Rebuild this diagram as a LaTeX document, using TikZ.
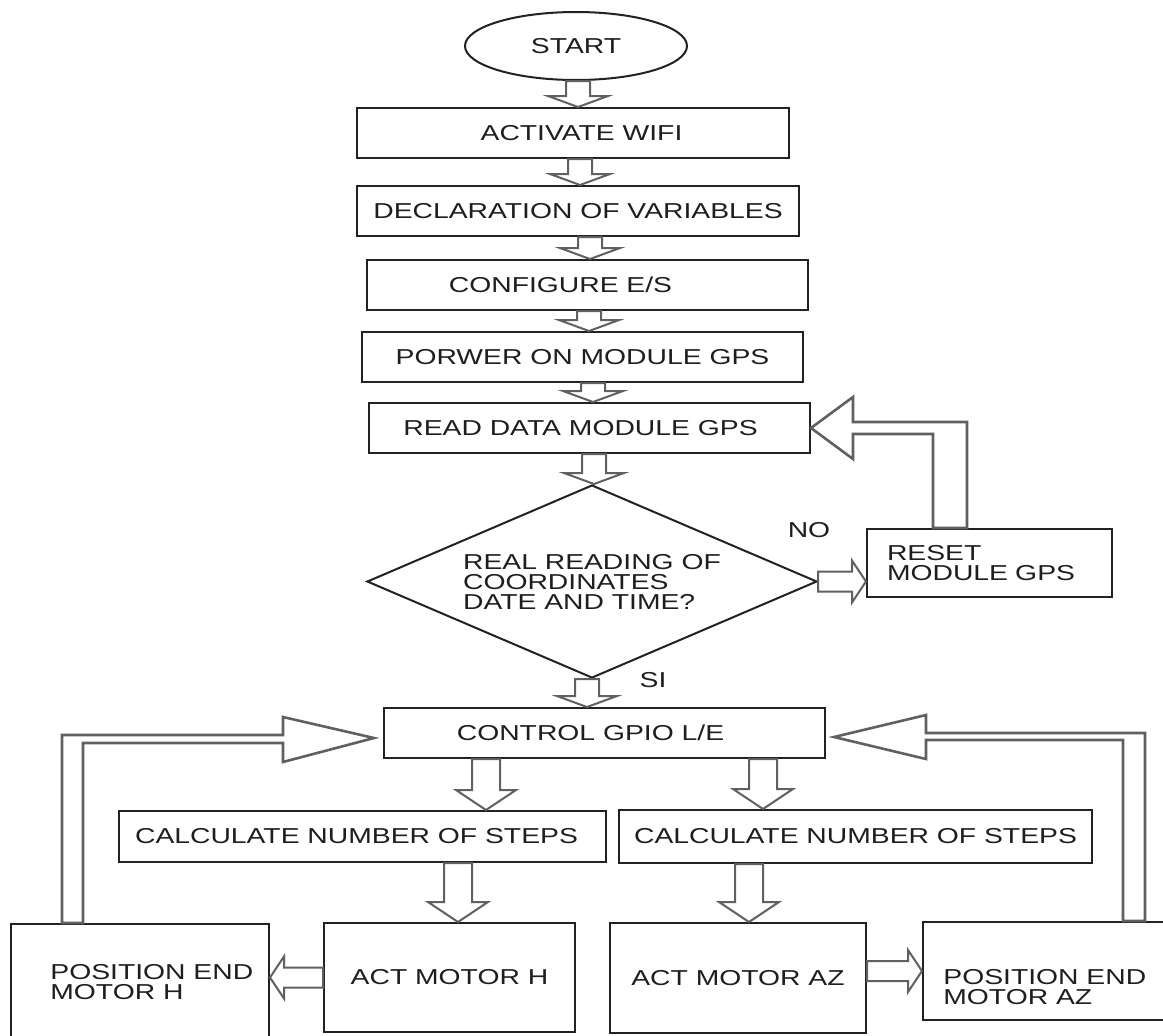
\documentclass[tikz,border=0pt]{standalone}
\usepackage{fontspec}
\usepackage{tikz}
\usetikzlibrary{shapes.geometric,calc}
\newfontfamily\flowfont{Liberation Sans}[FakeStretch=1.31]
\definecolor{boxline}{RGB}{34,34,34}
\definecolor{arrgray}{RGB}{96,96,96}
\definecolor{txtgray}{RGB}{30,30,30}
\tikzset{
  box/.style={draw=boxline, line width=1pt, fill=white, inner sep=0pt, text=txtgray,
    font=\flowfont\fontsize{10.8}{10}\selectfont},
  lbl/.style={inner sep=0pt, text=txtgray, font=\flowfont\fontsize{10.8}{10}\selectfont},
  blk/.style n args={3}{draw=arrgray, line width=1pt, fill=white,
    to path={($(\tikztostart)!#1!90:(\tikztotarget)$)
      -- ($(\tikztotarget)!#3!(\tikztostart)!#1!-90:(\tikztostart)$)
      -- ($(\tikztotarget)!#3!(\tikztostart)!#2!-90:(\tikztostart)$)
      -- (\tikztotarget)
      -- ($(\tikztotarget)!#3!(\tikztostart)!#2!90:(\tikztostart)$)
      -- ($(\tikztotarget)!#3!(\tikztostart)!#1!90:(\tikztostart)$)
      -- ($(\tikztostart)!#1!-90:(\tikztotarget)$) -- cycle}},
  blkS/.style={blk={6pt}{15pt}{5.5pt}},
  blkM/.style={blk={7pt}{15pt}{10pt}},
  blkH/.style={blk={5pt}{10.5pt}{7pt}},
  fb/.style={draw=arrgray, line width=1.3pt, fill=white}
}
\begin{document}
\begin{tikzpicture}[x=0.5pt, y=-0.5pt]
\clip (0,0) rectangle (1163,1035);

\node[box, ellipse, minimum width=111pt, minimum height=34pt] (start) at (576,46) {START};
\node[box, minimum width=216pt, minimum height=25pt] (act) at (573,133) {\hspace*{8.5pt}ACTIVATE WIFI};
\node[box, minimum width=221pt, minimum height=25pt] (decl) at (578,211) {DECLARATION OF VARIABLES};
\node[box, minimum width=220.5pt, minimum height=25pt] (conf) at (587.5,285) {\hspace*{-27pt}CONFIGURE E/S};
\node[box, minimum width=220.5pt, minimum height=25pt] (pow) at (582.5,357) {PORWER ON MODULE GPS};
\node[box, minimum width=220.5pt, minimum height=25pt] (read) at (589.5,428) {\hspace*{-9pt}READ DATA MODULE GPS};
\node[box, diamond, aspect=2.33, minimum width=225pt, minimum height=96.5pt, align=left] (dec) at (592,581.5)
  {REAL READING OF\\COORDINATES\\DATE AND TIME?};
\node[box, minimum width=122.5pt, minimum height=34pt, text width=102.5pt, align=left] (reset) at (989.5,563)
  {RESET\\MODULE GPS};
\node[box, minimum width=220.5pt, minimum height=25pt] (ctrl) at (604.5,733) {\hspace*{-14pt}CONTROL GPIO L/E};
\node[box, minimum width=243.5pt, minimum height=25.5pt] (calcH) at (362.5,836.5) {\hspace*{-6pt}CALCULATE NUMBER OF STEPS};
\node[box, minimum width=236.5pt, minimum height=26.5pt] (calcAZ) at (855.5,836.5) {CALCULATE NUMBER OF STEPS};
\node[box, minimum width=125.5pt, minimum height=54.5pt] (actH) at (449.5,977.5) {ACT MOTOR H};
\node[box, minimum width=128pt, minimum height=55pt] (actAZ) at (738,978) {ACT MOTOR AZ};
\node[box, minimum width=129pt, minimum height=58pt] (posH) at (140,982) {};
\node[box, minimum width=126pt, minimum height=49pt] (posAZ) at (1049,971) {};

\node[lbl, anchor=west, align=left] (posHtxt) at (50,982) {POSITION END\\MOTOR H};
\node[lbl, anchor=west, align=left] (posAZtxt) at (943,987) {POSITION END\\MOTOR AZ};
\node[lbl] (no) at (809,530) {NO};
\node[lbl] (si) at (653,680) {SI};

\foreach \from/\to/\x in {start/act/578, act/decl/580, decl/conf/590, conf/pow/589, pow/read/593, read/dec/594, dec/ctrl/587}
	\draw[blkS] (\from.south -| \x,0) to (\to.north -| \x,0);

\foreach \from/\to/\x in {ctrl/calcH/486, ctrl/calcAZ/763, calcH/actH/458, calcAZ/actAZ/749}
	\draw[blkM] (\from.south -| \x,0) to (\to.north -| \x,0);

\draw[blkH] (dec.east) to (dec.east -| reset.west);
\draw[blkH] (actH.west) to (actH.west -| posH.east);
\draw[blkH] (posAZ.west -| actAZ.east) to (posAZ.west);

\draw[fb] (933,0 |- reset.north) -- (933,434) -- (853,434) -- (853,459) -- (read.east)
  -- (853,397) -- (853,422) -- (967,422) -- (967,0 |- reset.north) -- cycle;
\draw[fb] (62,0 |- posH.north) -- (62,735) -- (283,735) -- (283,717) -- ($(ctrl.west)+(-9,5)$)
  -- (283,762) -- (283,743) -- (83,743) -- (83,0 |- posH.north) -- cycle;
\draw[fb] (1123,0 |- posAZ.north) -- (1123,740) -- (926,740) -- (926,759) -- ($(ctrl.east)+(8,4)$)
  -- (926,715) -- (926,733) -- (1145,733) -- (1145,0 |- posAZ.north) -- cycle;

\end{tikzpicture}
\end{document}
